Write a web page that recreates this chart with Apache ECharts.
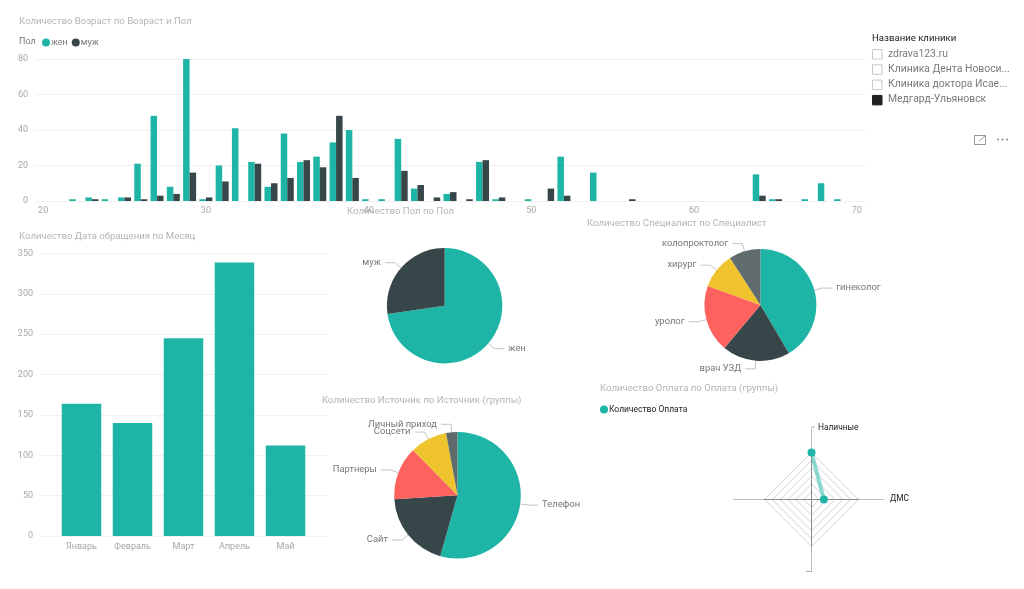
<!DOCTYPE html>
<html>
<head>
<meta charset="utf-8">
<title>Клиники</title>
<script src="https://cdn.jsdelivr.net/npm/echarts@6/dist/echarts.min.js"></script>
<style>
  html, body { margin: 0; padding: 0; background: #fff; }
  #main-chart { width: 1024px; height: 589px; }
</style>
</head>
<body>
<div id="main-chart"></div>
<script>
const ages = [20,21,22,23,24,25,26,27,28,29,30,31,32,33,34,35,36,37,38,39,40,41,42,43,44,45,46,47,48,49,50,51,52,53,54,55,56,57,58,59,60,61,62,63,64,65,66,67,68,69,70];
const ageWomen = [0,0,1,2,1,2,21,48,8,80,1,20,41,22,8,38,22,25,33,40,1,1,35,7,0,4,0,22,1,0,1,0,25,0,16,0,0,0,0,0,0,0,0,0,15,1,0,1,10,1,0];
const ageMen = [0,0,0,1,0,2,1,3,4,16,2,11,0,21,10,13,23,19,48,13,0,0,17,9,2,5,1,23,2,0,0,7,3,0,0,0,1,0,0,0,0,0,0,0,3,1,0,0,0,0,0];

const months = ['Январь', 'Февраль', 'Март', 'Апрель', 'Май'];
const monthValues = [164, 140, 245, 339, 112];

const genderNames = ['жен', 'муж'];
const genderValues = [727, 273];

const specialistNames = ['гинеколог', 'врач УЗД', 'уролог', 'хирург', 'колопроктолог'];
const specialistValues = [415, 196, 194, 104, 91];

const sourceNames = ['Телефон', 'Сайт', 'Партнеры', 'Соцсети', 'Личный приход'];
const sourceValues = [544, 196, 136, 95, 29];

// clockwise from the top, the two blank axes have no data
const paymentNames = ['Наличные', 'ДМС', '', ''];
const paymentValues = [760, 200, null, null];
const paymentMax = 760;

const clinics = ['zdrava123.ru', 'Клиника Дента Новоси...', 'Клиника доктора Исае...', 'Медгард-Ульяновск'];
const clinicChecked = [false, false, false, true];

const TEAL = '#1eb5a6';
const DARK = '#374649';
const RED = '#fd625e';
const YELLOW = '#eec32e';
const GREY = '#5f6b6d';
const pieColors = [TEAL, DARK, RED, YELLOW, GREY];
const FONT = 'Roboto, "Noto Sans", sans-serif';

function chartTitle(text, left, top) {
  return { text: text, left: left, top: top, padding: 0,
    textStyle: { color: '#b4b4b4', fontSize: 9.6, fontWeight: 'normal', fontFamily: FONT } };
}

function pieSeries(names, values, center, radius) {
  return {
    type: 'pie',
    center: center,
    radius: radius,
    startAngle: 90,
    clockwise: true,
    avoidLabelOverlap: false,
    labelLayout: { hideOverlap: false },
    data: names.map((n, i) => ({ name: n, value: values[i], itemStyle: { color: pieColors[i] } })),
    label: { color: '#777', fontSize: 9.4, fontFamily: FONT, distanceToLabelLine: 4 },
    labelLine: { length: 8, length2: 10, lineStyle: { color: '#c4c4c4', width: 1 } },
    emphasis: { disabled: true }
  };
}

const axisText = { color: '#a8a8a8', fontSize: 9, fontFamily: FONT };
const gridLine = { lineStyle: { color: '#f0f0f0', width: 1 } };

// slicer on the right
const slicer = [{
  type: 'text', left: 872, top: 34,
  style: { text: 'Название клиники', fill: '#222', font: '9.6px ' + FONT }
}];
clinics.forEach((name, i) => {
  const y = 49.5 + i * 15.3;
  slicer.push({
    type: 'rect', shape: { x: 872.5, y: y, width: 9.5, height: 9.5 },
    style: { fill: clinicChecked[i] ? '#222' : '#fff', stroke: clinicChecked[i] ? '#222' : '#c8c8c8', lineWidth: 1 }
  });
  slicer.push({
    type: 'text', left: 888, top: y - 0.5,
    style: { text: name, fill: '#7a7a7a', font: '10.4px ' + FONT }
  });
});

const extras = [
  { type: 'text', left: 19, top: 37, style: { text: 'Пол', fill: '#777', font: '9px ' + FONT } },
  // radar axis captions sit beside the axis ends
  { type: 'text', left: 818, top: 424, style: { text: paymentNames[0], fill: '#222', font: '8.4px ' + FONT } },
  { type: 'text', left: 890, top: 495, style: { text: paymentNames[1], fill: '#222', font: '8.4px ' + FONT } },
  { type: 'line', shape: { x1: 811.5, y1: 427, x2: 815, y2: 427 }, style: { stroke: '#aaa', lineWidth: 1 } },
  { type: 'line', shape: { x1: 806, y1: 571.5, x2: 811.5, y2: 571.5 }, style: { stroke: '#aaa', lineWidth: 1 } },
  { type: 'line', shape: { x1: 733, y1: 499.5, x2: 740, y2: 499.5 }, style: { stroke: '#bdbdbd', lineWidth: 1 } },
  // focus-mode and more icons
  { type: 'rect', shape: { x: 974.5, y: 135.5, width: 11, height: 9 }, style: { fill: 'none', stroke: '#999', lineWidth: 1 } },
  { type: 'line', shape: { x1: 979, y1: 141, x2: 985, y2: 136 }, style: { stroke: '#999', lineWidth: 1 } },
  { type: 'circle', shape: { cx: 998, cy: 139.5, r: 1 }, style: { fill: '#888' } },
  { type: 'circle', shape: { cx: 1002.5, cy: 139.5, r: 1 }, style: { fill: '#888' } },
  { type: 'circle', shape: { cx: 1007, cy: 139.5, r: 1 }, style: { fill: '#888' } }
];

const option = {
  animation: false,
  backgroundColor: '#fff',
  textStyle: { fontFamily: FONT },
  title: [
    chartTitle('Количество Возраст по Возраст и Пол', 19, 17),
    chartTitle('Количество Дата обращения по Месяц', 19, 232),
    chartTitle('Количество Пол по Пол', 347, 207),
    chartTitle('Количество Специалист по Специалист', 587, 219),
    chartTitle('Количество Источник по Источник (группы)', 322, 396),
    chartTitle('Количество Оплата по Оплата (группы)', 600, 384)
  ],
  legend: [
    {
      data: genderNames, left: 42, top: 38, padding: 0, icon: 'circle',
      itemWidth: 8, itemHeight: 8, itemGap: 4,
      textStyle: { color: '#777', fontSize: 9, padding: [0, 0, 0, -4] }
    },
    {
      data: ['Количество Оплата'], left: 600, top: 405, padding: 0, icon: 'circle',
      itemWidth: 8, itemHeight: 8,
      textStyle: { color: '#222', fontSize: 8.5, padding: [0, 0, 0, -4] }
    }
  ],
  grid: [
    { left: 35, top: 59, width: 830, height: 142 },
    { left: 56, top: 253.5, width: 255, height: 282.5 },
    { left: 41, top: 253.5, width: 287, height: 282.5 }
  ],
  xAxis: [
    {
      type: 'category', gridIndex: 0, data: ages,
      axisLine: { show: false }, axisTick: { show: false },
      axisLabel: Object.assign({ interval: 9, margin: 5 }, axisText)
    },
    {
      type: 'category', gridIndex: 1, data: months,
      axisLine: { show: false }, axisTick: { show: false },
      axisLabel: Object.assign({ interval: 0, margin: 6 }, axisText)
    },
    { type: 'category', gridIndex: 2, show: false, data: months }
  ],
  yAxis: [
    {
      type: 'value', gridIndex: 0, min: 0, max: 80, interval: 20,
      axisLabel: Object.assign({ margin: 7 }, axisText), splitLine: gridLine
    },
    { type: 'value', gridIndex: 1, show: false, min: 0, max: 350, interval: 50, splitLine: { show: false } },
    {
      type: 'value', gridIndex: 2, min: 0, max: 350, interval: 50,
      axisLabel: Object.assign({ margin: 8 }, axisText), splitLine: gridLine
    }
  ],
  radar: [
    {
      center: [811.5, 499.5], radius: 72, splitNumber: 1, shape: 'polygon',
      indicator: paymentNames.map(n => ({ name: n, max: paymentMax })),
      axisName: { show: false },
      axisLine: { lineStyle: { color: '#bdbdbd', width: 1 } },
      splitLine: { show: false }, splitArea: { show: false }, axisTick: { show: false }
    },
    {
      center: [811.5, 499.5], radius: 47, splitNumber: 6, shape: 'polygon',
      indicator: paymentNames.map(n => ({ name: n, max: paymentMax })),
      axisName: { show: false },
      axisLine: { lineStyle: { color: '#8c8c8c', width: 1 } },
      splitLine: { lineStyle: { color: '#d4d4d4', width: 1 } },
      splitArea: { show: false }, axisTick: { show: false }
    }
  ],
  // the radar closes its polygon through the centre on empty axes, so the
  // payment line goes on a polar system laid over the same web
  polar: { center: [811.5, 499.5], radius: 47 },
  angleAxis: { type: 'category', data: paymentNames, startAngle: 90, boundaryGap: false, show: false },
  radiusAxis: { type: 'value', min: 0, max: paymentMax, show: false },
  series: [
    {
      name: genderNames[0], type: 'bar', xAxisIndex: 0, yAxisIndex: 0,
      data: ageWomen, barWidth: 6.5, barGap: 0, itemStyle: { color: TEAL }
    },
    {
      name: genderNames[1], type: 'bar', xAxisIndex: 0, yAxisIndex: 0,
      data: ageMen, barWidth: 6.5, barGap: 0, itemStyle: { color: DARK }
    },
    {
      name: 'Месяц', type: 'bar', xAxisIndex: 1, yAxisIndex: 1,
      data: monthValues, barWidth: 39.5, itemStyle: { color: TEAL }
    },
    pieSeries(genderNames, genderValues, [444.6, 305.7], 57.7),
    pieSeries(specialistNames, specialistValues, [760.4, 305], 56),
    pieSeries(sourceNames, sourceValues, [457.5, 495.3], 63.3),
    {
      name: 'Количество Оплата', type: 'line', coordinateSystem: 'polar',
      data: paymentValues,
      symbol: 'circle', symbolSize: 8, showAllSymbol: true,
      itemStyle: { color: TEAL },
      lineStyle: { color: 'rgba(30,181,166,0.5)', width: 4 }
    }
  ],
  graphic: slicer.concat(extras)
};

let myChart = echarts.init(document.getElementById('main-chart'), null, { width: 1024, height: 589 });
myChart.setOption(option);
</script>
</body>
</html>
